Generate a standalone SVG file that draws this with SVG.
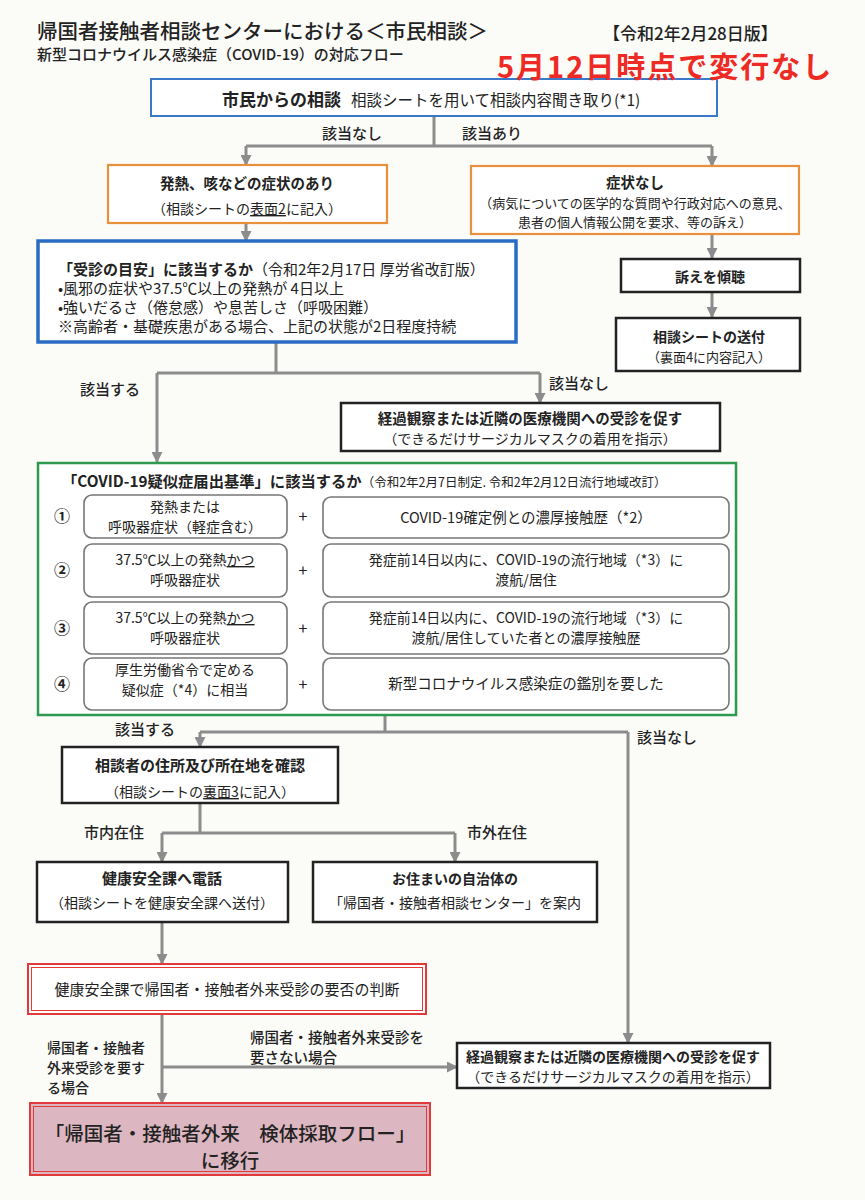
<svg xmlns="http://www.w3.org/2000/svg" width="865" height="1200" viewBox="0 0 865 1200">
<defs>
<style>
text{font-family:"Noto Sans CJK JP","Noto Sans",sans-serif;fill:#222}
.b{font-weight:700}
.c{text-anchor:middle}
.s15{font-size:15px}
.s14{font-size:14px}
.s145{font-size:14.5px}
.s13{font-size:13px}
.lbl{font-size:15px;font-weight:500}
.num{font-size:16px;font-weight:700;text-anchor:middle}
.conn{stroke:#8c8c8c;stroke-width:3;fill:none}
.arr{stroke:#8c8c8c;stroke-width:3;fill:none;marker-end:url(#ah)}
.blk{fill:#fff;stroke:#222;stroke-width:2.5}
.org{fill:#fff;stroke:#e8903c;stroke-width:2.2}
.rr{fill:#fff;stroke:#777;stroke-width:1.6}
.red{fill:none;stroke:#e23a3a}
</style>
<marker id="ah" markerUnits="userSpaceOnUse" markerWidth="11" markerHeight="11" refX="10" refY="5.5" orient="auto" viewBox="0 0 11 11">
<path d="M0,0 L11,5.5 L0,11 z" fill="#8c8c8c"/>
</marker>
</defs>
<rect x="0" y="0" width="865" height="1200" fill="#fbfbf8"/>

<g id="connectors">
<path class="conn" d="M434,116 V146 M246,146 H712"/>
<path class="arr" d="M246,146 V165"/>
<path class="arr" d="M712,146 V166"/>
<path class="arr" d="M246,223 V241"/>
<path class="arr" d="M712,234 V258"/>
<path class="arr" d="M712,292 V317"/>
<path class="conn" d="M276,343 V373 M157,373 H540"/>
<path class="arr" d="M157,373 V462"/>
<path class="arr" d="M540,373 V403"/>
<path class="conn" d="M385,715 V732 M200,732 H628"/>
<path class="arr" d="M200,732 V747"/>
<path class="arr" d="M628,732 V1043"/>
<path class="conn" d="M200,803 V833 M162,833 H455"/>
<path class="arr" d="M162,833 V862"/>
<path class="arr" d="M455,833 V862"/>
<path class="arr" d="M162,922 V964"/>
<path class="arr" d="M162,1014 V1103"/>
<path class="arr" d="M162,1067 H457"/>
</g>

<g id="labels">
<text x="322" y="139" class="lbl">該当なし</text>
<text x="462" y="139" class="lbl">該当あり</text>
<text x="80" y="395" class="lbl">該当する</text>
<text x="549" y="389" class="lbl">該当なし</text>
<text x="115" y="735" class="lbl">該当する</text>
<text x="637" y="743" class="lbl">該当なし</text>
<text x="84" y="838" class="lbl">市内在住</text>
<text x="467" y="838" class="lbl">市外在住</text>
<text x="47" y="1053" class="s14" style="font-weight:500">帰国者・接触者</text>
<text x="47" y="1073" class="s14" style="font-weight:500">外来受診を要す</text>
<text x="47" y="1093" class="s14" style="font-weight:500">る場合</text>
<text x="250" y="1043" class="s145" style="font-weight:500">帰国者・接触者外来受診を</text>
<text x="250" y="1063" class="s145" style="font-weight:500">要さない場合</text>
</g>

<g id="n-consult">
<rect x="151" y="79" width="566" height="37" fill="#fff" stroke="#3a78c8" stroke-width="2"/>
<text x="222" y="106"><tspan class="b" style="font-size:17px">市民からの相談</tspan><tspan dx="10" style="font-size:15.5px">相談シートを用いて相談内容聞き取り(*1)</tspan></text>
</g>

<g id="header">
<text x="37" y="39" style="font-size:20.5px;font-weight:500">帰国者接触者相談センターにおける＜市民相談＞</text>
<text x="37" y="60" style="font-size:15px;font-weight:500">新型コロナウイルス感染症（COVID-19）の対応フロー</text>
<text x="603" y="39.5" style="font-size:17px;font-weight:500">【令和2年2月28日版】</text>
<text x="497" y="78" class="b" style="font-size:29px;letter-spacing:2px;fill:#ee2a24">5月12日時点で変行なし</text>
</g>

<g id="n-symptom">
<rect x="108" y="165" width="279" height="58" class="org"/>
<text x="247" y="189" class="c b s145">発熱、咳などの症状のあり</text>
<text x="247" y="214" class="c s14">（相談シートの<tspan text-decoration="underline">表面2</tspan>に記入）</text>
</g>

<g id="n-nosymptom">
<rect x="471" y="166" width="328" height="68" class="org"/>
<text x="635" y="188" class="c b s145">症状なし</text>
<text x="635" y="208" class="c s13">（病気についての医学的な質問や行政対応への意見、</text>
<text x="635" y="227" class="c s13">患者の個人情報公開を要求、等の訴え）</text>
</g>

<g id="n-listen">
<rect x="621" y="259" width="179" height="33" class="blk"/>
<text x="710" y="282" class="c b s14">訴えを傾聴</text>
</g>

<g id="n-send">
<rect x="616" y="318" width="184" height="53" class="blk"/>
<text x="709" y="342" class="c b s14">相談シートの送付</text>
<text x="709" y="362" class="c s13">（裏面4に内容記入）</text>
</g>

<g id="n-guideline">
<rect x="38" y="241" width="478" height="101" fill="#fff" stroke="#2a6cc4" stroke-width="3.5"/>
<text x="58" y="275" class="s15"><tspan class="b">「受診の目安」に該当するか</tspan>（令和2年2月17日  厚労省改訂版）</text>
<text x="58" y="294" class="s15">•風邪の症状や37.5℃以上の発熱が 4日以上</text>
<text x="58" y="313" class="s15">•強いだるさ（倦怠感）や息苦しさ（呼吸困難）</text>
<text x="58" y="332" class="s15">※高齢者・基礎疾患がある場合、上記の状態が2日程度持続</text>
</g>

<g id="n-observe1">
<rect x="341" y="403" width="379" height="48" class="blk"/>
<text x="530" y="424" class="c b s145">経過観察または近隣の医療機関への受診を促す</text>
<text x="530" y="444" class="c s14">（できるだけサージカルマスクの着用を指示）</text>
</g>

<g id="n-covid">
<rect x="38" y="463" width="698" height="252" fill="#fff" stroke="#2e9a50" stroke-width="2.5"/>
<text x="62" y="487"><tspan class="b" style="font-size:15.3px">「COVID-19疑似症届出基準」に該当するか</tspan><tspan style="font-size:12.5px">（令和2年2月7日制定. 令和2年2月12日流行地域改訂）</tspan></text>
<text x="62" y="522" class="num">①</text>
<text x="62" y="576" class="num">②</text>
<text x="62" y="634" class="num">③</text>
<text x="62" y="690" class="num">④</text>
<text x="303" y="522" class="c" style="font-size:16px">+</text>
<text x="303" y="576" class="c" style="font-size:16px">+</text>
<text x="303" y="634" class="c" style="font-size:16px">+</text>
<text x="303" y="690" class="c" style="font-size:16px">+</text>
<rect x="84" y="495" width="203" height="43" rx="8" class="rr"/>
<rect x="323" y="497" width="406" height="41" rx="8" class="rr"/>
<rect x="84" y="544" width="203" height="53" rx="8" class="rr"/>
<rect x="323" y="544" width="406" height="53" rx="8" class="rr"/>
<rect x="84" y="602" width="203" height="52" rx="8" class="rr"/>
<rect x="323" y="602" width="406" height="52" rx="8" class="rr"/>
<rect x="84" y="658" width="203" height="52" rx="8" class="rr"/>
<rect x="323" y="658" width="406" height="52" rx="8" class="rr"/>
<text x="185" y="512" class="c s14">発熱または</text>
<text x="185" y="532" class="c s14">呼吸器症状（軽症含む）</text>
<text x="526" y="523" class="c s145">COVID-19確定例との濃厚接触歴（*2）</text>
<text x="185" y="565" class="c s14">37.5℃以上の発熱<tspan text-decoration="underline">かつ</tspan></text>
<text x="185" y="585" class="c s14">呼吸器症状</text>
<text x="526" y="565" class="c s14">発症前14日以内に、COVID-19の流行地域（*3）に</text>
<text x="526" y="585" class="c s14">渡航/居住</text>
<text x="185" y="623" class="c s14">37.5℃以上の発熱<tspan text-decoration="underline">かつ</tspan></text>
<text x="185" y="643" class="c s14">呼吸器症状</text>
<text x="526" y="623" class="c s14">発症前14日以内に、COVID-19の流行地域（*3）に</text>
<text x="526" y="643" class="c s14">渡航/居住していた者との濃厚接触歴</text>
<text x="185" y="675" class="c s14">厚生労働省令で定める</text>
<text x="185" y="695" class="c s14">疑似症（*4）に相当</text>
<text x="526" y="689" class="c s145">新型コロナウイルス感染症の鑑別を要した</text>
</g>

<g id="n-address">
<rect x="62" y="747" width="276" height="56" class="blk"/>
<text x="200" y="771" class="c b s15">相談者の住所及び所在地を確認</text>
<text x="200" y="797" class="c s14">（相談シートの<tspan text-decoration="underline">裏面3</tspan>に記入）</text>
</g>

<g id="n-phone">
<rect x="37" y="862" width="251" height="60" class="blk"/>
<text x="162" y="884" class="c b s15">健康安全課へ電話</text>
<text x="162" y="908" class="c s14">（相談シートを健康安全課へ送付）</text>
</g>

<g id="n-other">
<rect x="313" y="862" width="284" height="60" class="blk"/>
<text x="455" y="884" class="c b s14">お住まいの自治体の</text>
<text x="455" y="908" class="c s14">「帰国者・接触者相談センター」を案内</text>
</g>

<g id="n-judge">
<rect x="28" y="964" width="398" height="50" fill="#fff"/>
<rect x="28" y="964" width="398" height="50" class="red" stroke-width="2"/>
<rect x="31.5" y="967.5" width="391" height="43" class="red" stroke-width="1"/>
<text x="227" y="995" class="c s15">健康安全課で帰国者・接触者外来受診の要否の判断</text>
</g>

<g id="n-observe2">
<rect x="457" y="1043" width="313" height="45" class="blk"/>
<text x="613" y="1062" class="c b s14">経過観察または近隣の医療機関への受診を促す</text>
<text x="613" y="1082" class="c s14">（できるだけサージカルマスクの着用を指示）</text>
</g>

<g id="n-final">
<rect x="30" y="1103" width="400" height="72" fill="#dcb6c0"/>
<rect x="30" y="1103" width="400" height="72" class="red" stroke-width="2"/>
<rect x="33.5" y="1106.5" width="393" height="65" class="red" stroke-width="1"/>
<text x="230" y="1141" class="c" style="font-size:19.5px;font-weight:500">「帰国者・接触者外来　検体採取フロー」</text>
<text x="230" y="1168" class="c" style="font-size:19.5px;font-weight:500">に移行</text>
</g>
</svg>
